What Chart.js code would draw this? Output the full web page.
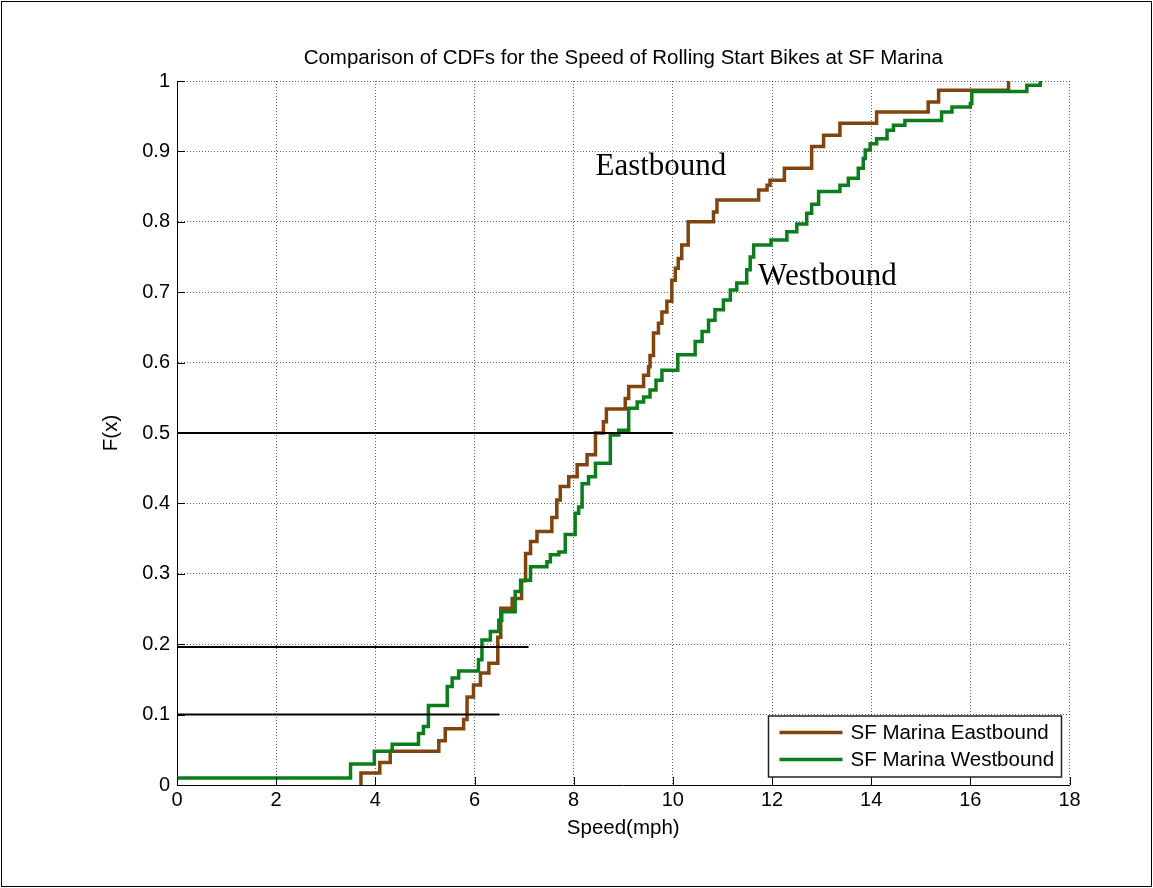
<!DOCTYPE html>
<html>
<head>
<meta charset="utf-8">
<script src="https://cdn.jsdelivr.net/npm/chart.js@4.4.1/dist/chart.umd.min.js"></script>
<style>
html,body{margin:0;padding:0;background:#fff;}
canvas{display:block;}
</style>
</head>
<body>
<canvas id="c" width="1153" height="888"></canvas>
<script>
// ---------- data ----------
const chartTitle = "Comparison of CDFs for the Speed of Rolling Start Bikes at SF Marina";
const xAxisTitle = "Speed(mph)";
const yAxisTitle = "F(x)";
const xTicks = [0, 2, 4, 6, 8, 10, 12, 14, 16, 18];
const yTicks = [0, 0.1, 0.2, 0.3, 0.4, 0.5, 0.6, 0.7, 0.8, 0.9, 1];
const seriesNames = ["SF Marina Eastbound", "SF Marina Westbound"];
const annotationTexts = ["Eastbound", "Westbound"];

// Eastbound empirical CDF: speed where each step occurs and level after it
const eastSpeed = [3.71, 3.71, 4.09, 4.30, 5.28, 5.41, 5.78, 5.85, 5.98, 6.12, 6.29, 6.47, 6.53, 6.76, 6.95, 7.03, 7.13, 7.26, 7.56, 7.66, 7.73, 7.90, 8.07, 8.27, 8.44, 8.60, 8.66, 9.04, 9.11, 9.41, 9.51, 9.54, 9.61, 9.71, 9.78, 9.88, 9.98, 10.05, 10.11, 10.18, 10.31, 10.82, 10.89, 11.73, 11.90, 11.96, 12.25, 12.80, 13.04, 13.37, 14.11, 15.15, 15.36, 16.77];
const eastF     = [0, 0.017, 0.032, 0.048, 0.063, 0.080, 0.093, 0.125, 0.142, 0.159, 0.173, 0.210, 0.251, 0.265, 0.290, 0.329, 0.346, 0.360, 0.380, 0.405, 0.424, 0.438, 0.455, 0.469, 0.500, 0.516, 0.534, 0.549, 0.566, 0.582, 0.594, 0.610, 0.642, 0.656, 0.672, 0.687, 0.717, 0.734, 0.748, 0.767, 0.800, 0.814, 0.831, 0.845, 0.852, 0.859, 0.876, 0.907, 0.923, 0.940, 0.956, 0.970, 0.987, 1.000];

// Westbound empirical CDF
const westSpeed = [0, 3.50, 3.98, 4.34, 4.87, 4.97, 5.07, 5.45, 5.55, 5.68, 6.08, 6.15, 6.32, 6.49, 6.55, 6.82, 6.93, 7.13, 7.46, 7.53, 7.70, 7.83, 8.03, 8.10, 8.17, 8.30, 8.44, 8.74, 8.91, 9.11, 9.28, 9.41, 9.54, 9.66, 9.78, 10.10, 10.45, 10.59, 10.72, 10.85, 11.02, 11.16, 11.29, 11.49, 11.56, 11.63, 11.98, 12.30, 12.50, 12.70, 12.80, 12.94, 13.37, 13.54, 13.74, 13.84, 13.88, 13.98, 14.11, 14.32, 14.45, 14.68, 15.42, 15.63, 16.00, 16.03, 17.14, 17.41];
const westF     = [0.010, 0.030, 0.048, 0.058, 0.073, 0.083, 0.113, 0.140, 0.152, 0.162, 0.178, 0.206, 0.218, 0.234, 0.246, 0.275, 0.291, 0.310, 0.317, 0.327, 0.331, 0.356, 0.386, 0.395, 0.428, 0.438, 0.457, 0.497, 0.504, 0.535, 0.544, 0.551, 0.561, 0.575, 0.589, 0.611, 0.630, 0.644, 0.660, 0.675, 0.689, 0.703, 0.713, 0.732, 0.750, 0.767, 0.774, 0.786, 0.797, 0.812, 0.825, 0.843, 0.852, 0.862, 0.876, 0.890, 0.902, 0.911, 0.918, 0.930, 0.937, 0.944, 0.956, 0.963, 0.968, 0.985, 0.994, 1.000];

// Horizontal reference lines (percentile markers): level and end speed
const refLevels = [0.5, 0.196, 0.1];
const refEnds   = [10, 7.09, 6.5];

// ---------- styling ----------
const FONT = "'Liberation Sans', Arial, Helvetica, sans-serif";
const SERIF = "'Liberation Serif', 'Times New Roman', serif";
const eastColor = "rgb(128,68,14)";
const westColor = "rgb(12,125,28)";

const toPts = (xs, ys) => xs.map((x, i) => ({ x: x, y: ys[i] }));

const datasets = [
  ...refLevels.map((lvl, i) => ({
    label: "ref" + i,
    data: [{ x: 0, y: lvl }, { x: refEnds[i], y: lvl }],
    borderColor: "#000", borderWidth: 2, pointRadius: 0, order: 0, clip: false
  })),
  {
    label: seriesNames[1], data: toPts(westSpeed, westF), borderColor: westColor,
    borderWidth: 3.5, pointRadius: 0, stepped: true, order: 1, clip: false,
    borderJoinStyle: "miter", borderCapStyle: "butt"
  },
  {
    label: seriesNames[0], data: toPts(eastSpeed, eastF), borderColor: eastColor,
    borderWidth: 3.5, pointRadius: 0, stepped: true, order: 2, clip: false,
    borderJoinStyle: "miter", borderCapStyle: "butt"
  }
];

const extras = {
  id: "extras",
  afterDraw(chart) {
    const ctx = chart.ctx;
    const xs = chart.scales.x, ys = chart.scales.y;
    const ca = chart.chartArea;
    ctx.save();
    // title centred over the plot area
    ctx.fillStyle = "#000";
    ctx.font = "20.5px " + FONT;
    ctx.textAlign = "center"; ctx.textBaseline = "middle";
    ctx.fillText(chartTitle, (ca.left + ca.right) / 2, ca.top - 23);

    // inward tick marks
    ctx.strokeStyle = "#000"; ctx.lineWidth = 1;
    ctx.beginPath();
    xTicks.forEach(v => {
      const px = Math.round(xs.getPixelForValue(v)) + 0.5;
      ctx.moveTo(px, ca.bottom); ctx.lineTo(px, ca.bottom - 8);
    });
    yTicks.forEach(v => {
      const py = Math.round(ys.getPixelForValue(v)) + 0.5;
      ctx.moveTo(ca.left, py); ctx.lineTo(ca.left + 8, py);
    });
    ctx.stroke();

    // annotations
    ctx.fillStyle = "#000";
    ctx.font = "31px " + SERIF;
    ctx.textBaseline = "alphabetic"; ctx.textAlign = "left";
    ctx.fillText(annotationTexts[0], xs.getPixelForValue(8.44), ys.getPixelForValue(0.866));
    ctx.fillText(annotationTexts[1], xs.getPixelForValue(11.72), ys.getPixelForValue(0.710));

    // legend box
    const lw = 293, lh = 61;
    const lx = ca.right - 8 - lw, ly = ca.bottom - 8 - lh;
    ctx.fillStyle = "#fff";
    ctx.fillRect(lx, ly, lw, lh);
    ctx.strokeStyle = "#222"; ctx.lineWidth = 1.5;
    ctx.strokeRect(lx, ly, lw, lh);
    const colors = [eastColor, westColor];
    ctx.font = "20.5px " + FONT;
    ctx.textBaseline = "middle";
    seriesNames.forEach((name, i) => {
      const yy = ly + 16.5 + i * 27;
      ctx.strokeStyle = colors[i]; ctx.lineWidth = 3.5;
      ctx.beginPath(); ctx.moveTo(lx + 11, yy); ctx.lineTo(lx + 74, yy); ctx.stroke();
      ctx.fillStyle = "#000";
      ctx.fillText(name, lx + 82, yy + 1);
    });

    // outer figure frame
    ctx.strokeStyle = "#000"; ctx.lineWidth = 1;
    ctx.strokeRect(1.5, 1.5, chart.width - 3, chart.height - 3);
    ctx.restore();
  }
};

new Chart(document.getElementById("c"), {
  type: "line",
  data: { datasets },
  plugins: [extras],
  options: {
    responsive: false,
    animation: false,
    devicePixelRatio: 1,
    layout: { padding: { left: 0, right: 83.5, top: 81, bottom: 0 } },
    plugins: {
      legend: { display: false },
      tooltip: { enabled: false },
      title: { display: false }
    },
    scales: {
      x: {
        type: "linear", min: 0, max: 18,
        afterBuildTicks: s => { s.ticks = xTicks.map(v => ({ value: v })); },
        afterFit: s => { s.height = 103; },
        ticks: { color: "#000", font: { family: FONT, size: 20 }, padding: 3, maxRotation: 0,
                 callback: v => String(v) },
        grid: { color: "rgba(0,0,0,0.6)", lineWidth: 1, drawTicks: false },
        border: { display: true, color: "#000", width: 1, dash: [1, 2] },
        title: { display: true, text: xAxisTitle, color: "#000",
                 font: { family: FONT, size: 20.5 }, padding: { top: 0, bottom: 47.7 } }
      },
      y: {
        type: "linear", min: 0, max: 1,
        afterBuildTicks: s => { s.ticks = yTicks.map(v => ({ value: v })); },
        afterFit: s => { s.width = 177; },
        ticks: { color: "#000", font: { family: FONT, size: 20 }, padding: 7,
                 callback: v => String(Math.round(v * 10) / 10) },
        grid: { color: "rgba(0,0,0,0.6)", lineWidth: 1, drawTicks: false },
        border: { display: true, color: "#000", width: 1, dash: [1, 2] },
        title: { display: true, text: yAxisTitle, color: "#000",
                 font: { family: FONT, size: 20.5 }, padding: { top: 98.7, bottom: 0 } }
      }
    }
  }
});
</script>
</body>
</html>
